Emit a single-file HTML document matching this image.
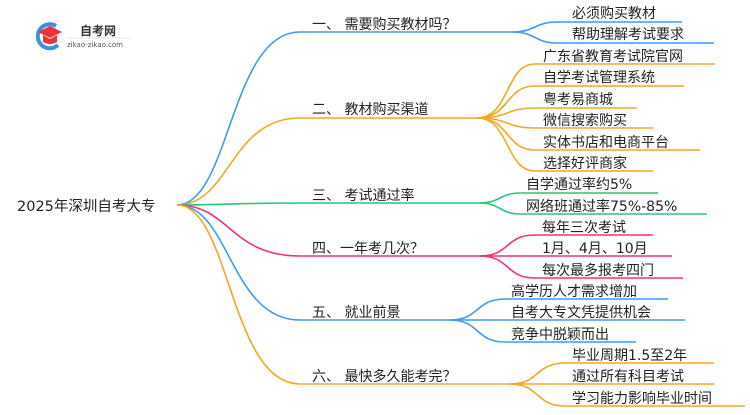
<!DOCTYPE html>
<html><head><meta charset="utf-8"><style>
body{margin:0;width:750px;height:410px;background:#fff;overflow:hidden}
svg text{font-family:"DejaVu Sans","Noto Sans CJK SC",sans-serif;font-size:14px;fill:#222}
</style></head><body>
<svg width="750" height="410" viewBox="0 0 750 410" xmlns="http://www.w3.org/2000/svg">
<g fill="none" stroke-width="1.6">
<path d="M177,205 C230,205 230,32 300,32 L513,32" stroke="#3d9af5"/>
<path d="M177,205 C230,205 230,118 300,118 L477,118" stroke="#f5a623"/>
<path d="M177,205 C230,205 230,203 300,203 L480,203" stroke="#2ec47a"/>
<path d="M177,205 C230,205 230,256 300,256 L480,256" stroke="#f0327a"/>
<path d="M177,205 C230,205 230,320 300,320 L450,320" stroke="#3d9af5"/>
<path d="M177,205 C230,205 230,384 300,384 L510,384" stroke="#f5a623"/>
<g stroke="#3d9af5">
<path d="M513,32 C535,32 535,22 557,22 L682,22"/>
<path d="M513,32 C535,32 535,43 557,43 L714,43"/>
</g>
<g stroke="#f5a623">
<path d="M477,118 C510,118 505,64 535,64 L715,64"/>
<path d="M477,118 C510,118 505,86 535,86 L684,86"/>
<path d="M477,118 C510,118 505,108 535,108 L637,108"/>
<path d="M477,118 C510,118 505,128 535,128 L653,128"/>
<path d="M477,118 C510,118 505,150 535,150 L700,150"/>
<path d="M477,118 C510,118 505,171 535,171 L653,171"/>
</g>
<g stroke="#2ec47a">
<path d="M480,203 C500,203 500,193 520,193 L658,193"/>
<path d="M480,203 C500,203 500,214 520,214 L707,214"/>
</g>
<g stroke="#f0327a">
<path d="M480,256 C510,256 505,235 535,235 L653,235"/>
<path d="M480,256 L672,256"/>
<path d="M480,256 C510,256 505,278 535,278 L683,278"/>
</g>
<g stroke="#3d9af5">
<path d="M450,320 C480,320 475,299 505,299 L668,299"/>
<path d="M450,320 L685,320"/>
<path d="M450,320 C480,320 475,342 505,342 L636,342"/>
</g>
<g stroke="#f5a623">
<path d="M510,384 C540,384 535,363 565,363 L714,363"/>
<path d="M510,384 L714,384"/>
<path d="M510,384 C540,384 535,406 565,406 L745,406"/>
</g>
</g>
<!-- logo -->
<path d="M56,26 A12,12 0 1 0 58,45" fill="none" stroke="#3d8fe0" stroke-width="4"/>
<polygon points="38,32 50,26 62,32 50,38" fill="#e8343a"/>
<path d="M43,35 L43,42 Q50,46 57,42 L57,35 L50,39 Z" fill="#e8343a"/>
<text x="80" y="35" style="font-size:12px;font-weight:bold;fill:#333">自考网</text>
<line x1="67" y1="38" x2="130" y2="38" stroke="#ccc" stroke-width="0.6"/>
<text x="67" y="47" style="font-size:7px;fill:#555">zikao-zikao.com</text>
<text x="17" y="211" style="font-size:14.5px">2025年深圳自考大专</text>
<text x="312" y="29">一、 需要购买教材吗？</text>
<text x="572" y="18">必须购买教材</text>
<text x="572" y="39">帮助理解考试要求</text>
<text x="312" y="114">二、 教材购买渠道</text>
<text x="543" y="61">广东省教育考试院官网</text>
<text x="543" y="82">自学考试管理系统</text>
<text x="543" y="104">粤考易商城</text>
<text x="543" y="125">微信搜索购买</text>
<text x="543" y="147">实体书店和电商平台</text>
<text x="543" y="168">选择好评商家</text>
<text x="312" y="200">三、 考试通过率</text>
<text x="526" y="189">自学通过率约5%</text>
<text x="526" y="211">网络班通过率75%-85%</text>
<text x="312" y="253">四、一年考几次？</text>
<text x="542" y="232">每年三次考试</text>
<text x="542" y="253">1月、4月、10月</text>
<text x="542" y="275">每次最多报考四门</text>
<text x="312" y="317">五、 就业前景</text>
<text x="511" y="296">高学历人才需求增加</text>
<text x="511" y="317">自考大专文凭提供机会</text>
<text x="511" y="339">竞争中脱颖而出</text>
<text x="312" y="381">六、 最快多久能考完？</text>
<text x="572" y="360">毕业周期1.5至2年</text>
<text x="572" y="381">通过所有科目考试</text>
<text x="572" y="403">学习能力影响毕业时间</text>
</svg>
</body></html>
